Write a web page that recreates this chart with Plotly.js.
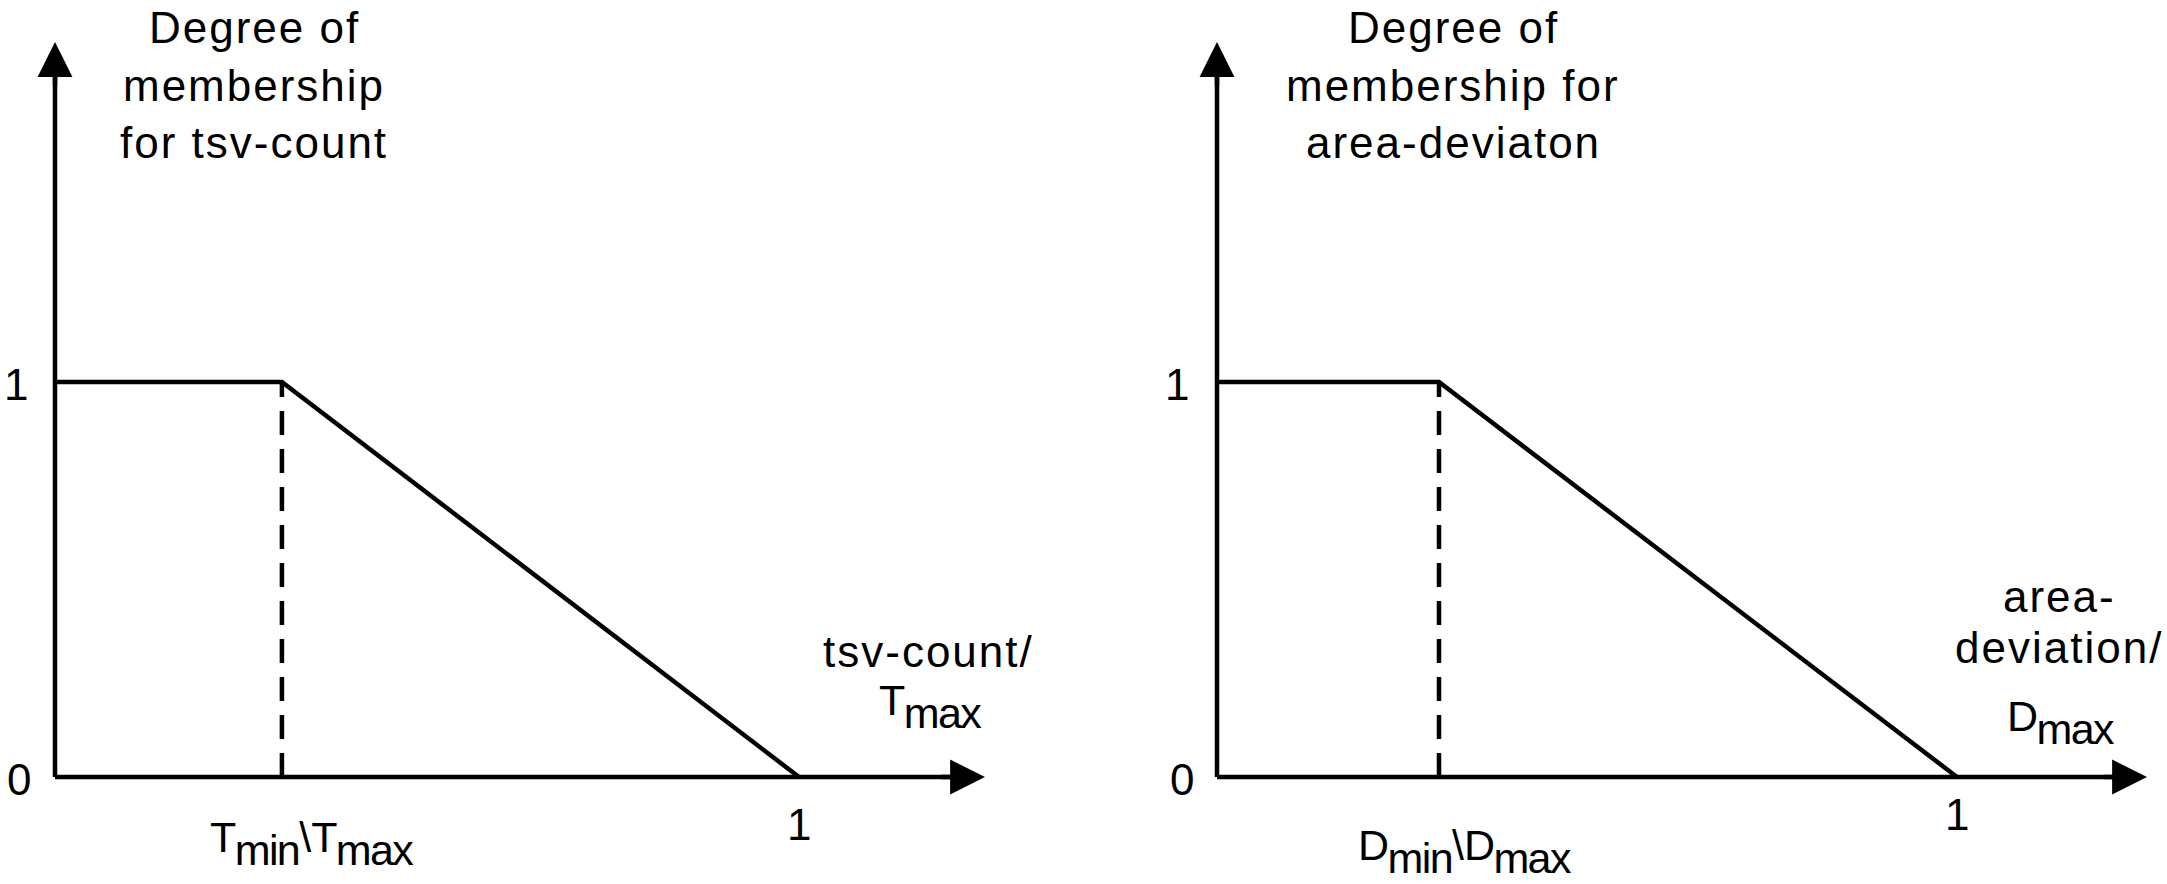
<!DOCTYPE html>
<html>
<head>
<meta charset="utf-8">
<script src="https://cdn.plot.ly/plotly-3.0.1.min.js"></script>
<style>
html,body{margin:0;padding:0;background:#fff;}
#chart{width:2167px;height:884px;}
</style>
</head>
<body>
<div id="chart"></div>
<script>
// ---------------- data ----------------
const tsvBreak = 0.305;               // T_min / T_max
const areaBreak = 0.30;               // D_min / D_max
const tsvMembershipX = [0, tsvBreak, 1];
const tsvMembershipY = [1, 1, 0];
const areaMembershipX = [0, areaBreak, 1];
const areaMembershipY = [1, 1, 0];
const breakLineY = [0, 1];
const yTickVals = [0, 1];
const yTickText = ['0', '1'];
const tsvTitleLines = ['Degree of', 'membership', 'for tsv-count'];
const areaTitleLines = ['Degree of', 'membership for', 'area-deviaton'];
const tsvXLabelLines = ['tsv-count/'];
const areaXLabelLines = ['area-', 'deviation/'];
const tsvXLabelSub = ['T', 'max'];
const areaXLabelSub = ['D', 'max'];
const tsvBreakLabel = [['T', 'min'], ['T', 'max']];
const areaBreakLabel = [['D', 'min'], ['D', 'max']];
const xOneLabel = '1';

// ---------------- layout geometry ----------------
const W = 2167, H = 884;
const FS = 44;          // plain text size
const SFS = 43;         // size of text in labels with subscripts
const FONT = '"Liberation Sans", Arial, Helvetica, sans-serif';
const LW = 4.5;
// pixel anchors
const yZeroPx = 777, yUnitPx = 395;
const leftOriginPx = 55, leftUnitPx = 744;
const rightOriginPx = 1217, rightUnitPx = 740;
const splitPx = W / 2;
// arrow tips (data units)
const leftXTip = (985 - leftOriginPx) / leftUnitPx;
const rightXTip = (2147 - rightOriginPx) / rightUnitPx;
const yTip = (yZeroPx - 42) / yUnitPx;
// axis line ends (inside the arrow heads)
const leftXLineEnd = (970 - leftOriginPx) / leftUnitPx;
const rightXLineEnd = (2132 - rightOriginPx) / rightUnitPx;
const yLineEnd = (yZeroPx - 57) / yUnitPx;

const px = v => v / W;
const py = v => 1 - v / H;

function wide(t) { return '<span style="letter-spacing:2px">' + t + '</span>'; }
function subMarkup(pair) {
  return '<span style="font-size:' + SFS + 'px;letter-spacing:-1.6px">' + pair[0] + '</span>' +
         '<sub><span style="letter-spacing:-1.6px">' + pair[1] + '</span></sub>';
}
function breakMarkup(parts) {
  return subMarkup(parts[0]) + '<span style="font-size:' + SFS + 'px">\\</span>' + subMarkup(parts[1]);
}

const black = '#000000';

function panelTraces(xa, ya, mx, my, brk, xEnd) {
  return [
    {x: [0, xEnd], y: [0, 0], xaxis: xa, yaxis: ya, mode: 'lines',
     line: {color: black, width: LW}, hoverinfo: 'skip', cliponaxis: false},
    {x: [0, 0], y: [0, yLineEnd], xaxis: xa, yaxis: ya, mode: 'lines',
     line: {color: black, width: LW}, hoverinfo: 'skip', cliponaxis: false},
    {x: [brk, brk], y: breakLineY, xaxis: xa, yaxis: ya, mode: 'lines',
     line: {color: black, width: LW, dash: '24px,14px'}, hoverinfo: 'skip', cliponaxis: false},
    {x: mx, y: my, xaxis: xa, yaxis: ya, mode: 'lines',
     line: {color: black, width: LW}, hoverinfo: 'skip', cliponaxis: false}
  ];
}

const data = [
  ...panelTraces('x', 'y', tsvMembershipX, tsvMembershipY, tsvBreak, leftXLineEnd),
  ...panelTraces('x2', 'y2', areaMembershipX, areaMembershipY, areaBreak, rightXLineEnd)
];

function arrowAnn(xr, yr, x, y, ax, ay) {
  return {xref: xr, yref: yr, x: x, y: y, ax: ax, ay: ay, text: '', showarrow: true,
          arrowhead: 2, arrowsize: 1.55, arrowwidth: LW, arrowcolor: black, standoff: 0};
}
function textAnn(o) {
  return Object.assign({showarrow: false, font: {family: FONT, size: FS, color: black},
                        xanchor: 'center', yanchor: 'middle', align: 'center'}, o);
}
function subAnn(o) {
  return textAnn(Object.assign({font: {family: FONT, size: SFS / 0.7, color: black}}, o));
}
function lineAnns(lines, cx, centers) {
  return lines.map((t, i) => textAnn({xref: 'paper', yref: 'paper', x: px(cx), y: py(centers[i]), text: wide(t)}));
}

const titleCenters = [27, 86, 142];

const annotations = [
  arrowAnn('x', 'y', leftXTip, 0, -45, 0),
  arrowAnn('x', 'y', 0, yTip, 0, 45),
  arrowAnn('x2', 'y2', rightXTip, 0, -45, 0),
  arrowAnn('x2', 'y2', 0, yTip, 0, 45),
  // titles
  ...lineAnns(tsvTitleLines, 254, titleCenters),
  ...lineAnns(areaTitleLines, 1453, titleCenters),
  // y tick labels
  textAnn({xref: 'x', yref: 'y', x: 0, y: yTickVals[0], xshift: -36, yshift: -2, text: yTickText[0]}),
  textAnn({xref: 'x', yref: 'y', x: 0, y: yTickVals[1], xshift: -39, yshift: -2, text: yTickText[1]}),
  textAnn({xref: 'x2', yref: 'y2', x: 0, y: yTickVals[0], xshift: -35, yshift: -2, text: yTickText[0]}),
  textAnn({xref: 'x2', yref: 'y2', x: 0, y: yTickVals[1], xshift: -40, yshift: -2, text: yTickText[1]}),
  // x tick labels
  textAnn({xref: 'x', yref: 'y', x: 1, y: 0, yshift: -47, text: xOneLabel}),
  textAnn({xref: 'x2', yref: 'y2', x: 1, y: 0, yshift: -37, text: xOneLabel}),
  subAnn({xref: 'x', yref: 'y', x: tsvBreak, y: 0, xshift: 30, yshift: -66, text: breakMarkup(tsvBreakLabel)}),
  subAnn({xref: 'x2', yref: 'y2', x: areaBreak, y: 0, xshift: 26, yshift: -74, text: breakMarkup(areaBreakLabel)}),
  // x axis labels
  ...lineAnns(tsvXLabelLines, 928, [651]),
  subAnn({xref: 'paper', yref: 'paper', x: px(930), y: py(706), text: subMarkup(tsvXLabelSub)}),
  ...lineAnns(areaXLabelLines, 2059, [596, 647]),
  subAnn({xref: 'paper', yref: 'paper', x: px(2061), y: py(722), text: subMarkup(areaXLabelSub)})
];

const hiddenAxis = {showgrid: false, zeroline: false, showline: false, showticklabels: false,
                    ticks: '', fixedrange: true};

const layout = {
  width: W, height: H,
  margin: {l: 0, r: 0, t: 0, b: 0, pad: 0},
  paper_bgcolor: '#ffffff', plot_bgcolor: '#ffffff',
  showlegend: false,
  font: {family: FONT, size: FS, color: black},
  xaxis: Object.assign({}, hiddenAxis, {domain: [0, 0.5], anchor: 'y',
    range: [-leftOriginPx / leftUnitPx, (splitPx - leftOriginPx) / leftUnitPx]}),
  yaxis: Object.assign({}, hiddenAxis, {domain: [0, 1], anchor: 'x',
    range: [-(H - yZeroPx) / yUnitPx, yZeroPx / yUnitPx]}),
  xaxis2: Object.assign({}, hiddenAxis, {domain: [0.5, 1], anchor: 'y2',
    range: [-(rightOriginPx - splitPx) / rightUnitPx, (W - rightOriginPx) / rightUnitPx]}),
  yaxis2: Object.assign({}, hiddenAxis, {domain: [0, 1], anchor: 'x2',
    range: [-(H - yZeroPx) / yUnitPx, yZeroPx / yUnitPx]}),
  annotations: annotations
};

Plotly.newPlot('chart', data, layout, {displayModeBar: false, staticPlot: true});
</script>
</body>
</html>
